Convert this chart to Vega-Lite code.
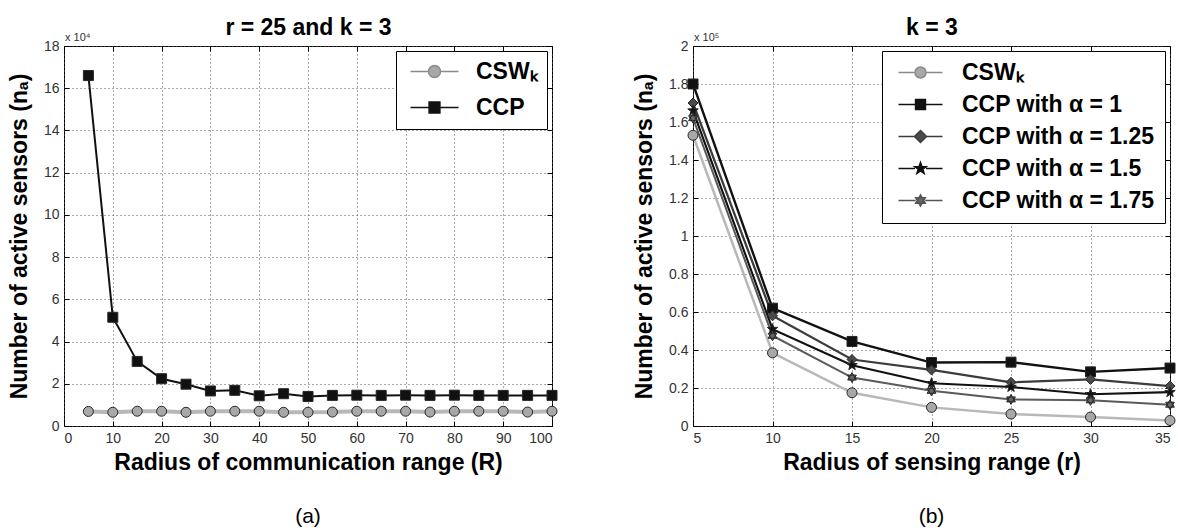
{
  "$schema": "https://vega.github.io/schema/vega-lite/v6.json",
  "background": "white",
  "padding": {"left": 7, "top": 16, "right": 0, "bottom": 0},
  "spacing": 73,
  "resolve": {"scale": {"color": "independent", "strokeWidth": "independent", "fill": "independent", "stroke": "independent", "shape": "independent"}, "legend": {"color": "independent", "fill": "independent", "stroke": "independent", "shape": "independent", "strokeWidth": "independent"}},
  "config": {
    "font": "Liberation Sans",
    "view": {"stroke": "#000", "strokeWidth": 1},
    "axis": {
      "domain": false, "tickColor": "#000", "tickSize": -5, "tickWidth": 1,
      "labelFont": "Liberation Sans", "labelFontSize": 14, "labelColor": "#333", "labelPadding": 10,
      "titleFont": "Liberation Sans", "titleFontSize": 23, "titleFontWeight": "bold", "titleColor": "#000",
      "gridColor": "#555", "gridDash": [1, 3], "gridWidth": 1, "gridOpacity": 1
    }
  },
  "datasets": {
    "a": [
      {"R": 5, "series": "CSWₖ", "n": 6900}, {"R": 10, "series": "CSWₖ", "n": 6500}, {"R": 15, "series": "CSWₖ", "n": 7000}, {"R": 20, "series": "CSWₖ", "n": 7000},
      {"R": 25, "series": "CSWₖ", "n": 6500}, {"R": 30, "series": "CSWₖ", "n": 7000}, {"R": 35, "series": "CSWₖ", "n": 7000}, {"R": 40, "series": "CSWₖ", "n": 7000},
      {"R": 45, "series": "CSWₖ", "n": 6500}, {"R": 50, "series": "CSWₖ", "n": 6500}, {"R": 55, "series": "CSWₖ", "n": 6600}, {"R": 60, "series": "CSWₖ", "n": 7000},
      {"R": 65, "series": "CSWₖ", "n": 7000}, {"R": 70, "series": "CSWₖ", "n": 7000}, {"R": 75, "series": "CSWₖ", "n": 6600}, {"R": 80, "series": "CSWₖ", "n": 7000},
      {"R": 85, "series": "CSWₖ", "n": 7000}, {"R": 90, "series": "CSWₖ", "n": 7000}, {"R": 95, "series": "CSWₖ", "n": 6600}, {"R": 100, "series": "CSWₖ", "n": 7000},
      {"R": 5, "series": "CCP", "n": 166000}, {"R": 10, "series": "CCP", "n": 51500}, {"R": 15, "series": "CCP", "n": 30600}, {"R": 20, "series": "CCP", "n": 22400},
      {"R": 25, "series": "CCP", "n": 19800}, {"R": 30, "series": "CCP", "n": 16600}, {"R": 35, "series": "CCP", "n": 16900}, {"R": 40, "series": "CCP", "n": 14300},
      {"R": 45, "series": "CCP", "n": 15300}, {"R": 50, "series": "CCP", "n": 14000}, {"R": 55, "series": "CCP", "n": 14500}, {"R": 60, "series": "CCP", "n": 14600},
      {"R": 65, "series": "CCP", "n": 14500}, {"R": 70, "series": "CCP", "n": 14600}, {"R": 75, "series": "CCP", "n": 14500}, {"R": 80, "series": "CCP", "n": 14600},
      {"R": 85, "series": "CCP", "n": 14500}, {"R": 90, "series": "CCP", "n": 14500}, {"R": 95, "series": "CCP", "n": 14500}, {"R": 100, "series": "CCP", "n": 14500}
    ],
    "b": [
      {"r": 5, "series": "CSWₖ", "n": 153000}, {"r": 10, "series": "CSWₖ", "n": 38500}, {"r": 15, "series": "CSWₖ", "n": 17500}, {"r": 20, "series": "CSWₖ", "n": 9800},
      {"r": 25, "series": "CSWₖ", "n": 6300}, {"r": 30, "series": "CSWₖ", "n": 4700}, {"r": 35, "series": "CSWₖ", "n": 2900},
      {"r": 5, "series": "CCP with α = 1", "n": 180000}, {"r": 10, "series": "CCP with α = 1", "n": 62000}, {"r": 15, "series": "CCP with α = 1", "n": 44500}, {"r": 20, "series": "CCP with α = 1", "n": 33400},
      {"r": 25, "series": "CCP with α = 1", "n": 33600}, {"r": 30, "series": "CCP with α = 1", "n": 28500}, {"r": 35, "series": "CCP with α = 1", "n": 30500},
      {"r": 5, "series": "CCP with α = 1.25", "n": 170000}, {"r": 10, "series": "CCP with α = 1.25", "n": 58000}, {"r": 15, "series": "CCP with α = 1.25", "n": 35000}, {"r": 20, "series": "CCP with α = 1.25", "n": 29500},
      {"r": 25, "series": "CCP with α = 1.25", "n": 23000}, {"r": 30, "series": "CCP with α = 1.25", "n": 24500}, {"r": 35, "series": "CCP with α = 1.25", "n": 21000},
      {"r": 5, "series": "CCP with α = 1.5", "n": 166000}, {"r": 10, "series": "CCP with α = 1.5", "n": 51000}, {"r": 15, "series": "CCP with α = 1.5", "n": 32000}, {"r": 20, "series": "CCP with α = 1.5", "n": 22500},
      {"r": 25, "series": "CCP with α = 1.5", "n": 20500}, {"r": 30, "series": "CCP with α = 1.5", "n": 16700}, {"r": 35, "series": "CCP with α = 1.5", "n": 17800},
      {"r": 5, "series": "CCP with α = 1.75", "n": 162000}, {"r": 10, "series": "CCP with α = 1.75", "n": 47500}, {"r": 15, "series": "CCP with α = 1.75", "n": 25500}, {"r": 20, "series": "CCP with α = 1.75", "n": 18500},
      {"r": 25, "series": "CCP with α = 1.75", "n": 14000}, {"r": 30, "series": "CCP with α = 1.75", "n": 13500}, {"r": 35, "series": "CCP with α = 1.75", "n": 11200}
    ]
  },
  "hconcat": [
    {
      "width": 488, "height": 380,
      "title": {"text": "(a)", "orient": "bottom", "fontSize": 21, "fontWeight": "normal", "offset": 32, "frame": "group", "anchor": "middle", "font": "Liberation Sans", "color": "#000"},
      "data": {"name": "a"},
      "layer": [
        {
          "mark": {"type": "line", "clip": true},
          "encoding": {
            "x": {"field": "R", "type": "quantitative", "scale": {"domain": [0, 100], "nice": false},
                  "axis": {"title": "Radius of communication range (R)", "values": [0, 10, 20, 30, 40, 50, 60, 70, 80, 90, 100], "grid": true, "titlePadding": 6}},
            "y": {"field": "n", "type": "quantitative", "scale": {"domain": [0, 180000], "nice": false},
                  "axis": {"title": "Number of active sensors (nₐ)", "values": [0, 20000, 40000, 60000, 80000, 100000, 120000, 140000, 160000, 180000], "labelExpr": "format(datum.value/10000, '~g')", "grid": true, "titlePadding": 12}},
            "color": {"field": "series", "type": "nominal", "scale": {"domain": ["CSWₖ", "CCP"], "range": ["#b8b8b8", "#111111"]}, "legend": null},
            "strokeWidth": {"field": "series", "type": "nominal", "scale": {"domain": ["CSWₖ", "CCP"], "range": [4, 2]}, "legend": null}
          }
        },
        {
          "mark": {"type": "point", "filled": true, "stroke": "#262626", "strokeWidth": 1, "size": 100, "opacity": 1},
          "encoding": {
            "x": {"field": "R", "type": "quantitative", "axis": {"orient": "top", "labels": false, "grid": false, "title": "r = 25 and k = 3", "titlePadding": 6, "values": [0, 10, 20, 30, 40, 50, 60, 70, 80, 90, 100]}},
            "y": {"field": "n", "type": "quantitative", "axis": {"orient": "right", "labels": false, "grid": false, "title": null, "values": [0, 20000, 40000, 60000, 80000, 100000, 120000, 140000, 160000, 180000]}},
            "fill": {"field": "series", "type": "nominal", "scale": {"domain": ["CSWₖ", "CCP"], "range": ["#a8a8a8", "#111111"]}, "legend": null},
            "shape": {"field": "series", "type": "nominal", "scale": {"domain": ["CSWₖ", "CCP"], "range": ["circle", "square"]}, "legend": null}
          }
        },
        {
          "transform": [{"filter": "datum.R < 0"}],
          "mark": {"type": "point", "filled": true, "strokeWidth": 1.5, "opacity": 1},
          "encoding": {
            "x": {"field": "R", "type": "quantitative", "axis": null},
            "y": {"field": "n", "type": "quantitative", "axis": null},
            "shape": {"field": "series", "type": "nominal", "scale": {"domain": ["CSWₖ", "CCP"], "range": ["M-4,0L-1,0M1,0L4,0M-1,0A1,1,0,1,0,1,0A1,1,0,1,0,-1,0Z", "M-4,0L-0.9,0M0.9,0L4,0M-0.9,-0.9L0.9,-0.9L0.9,0.9L-0.9,0.9Z"]},
                      "legend": {"title": null, "orient": "top-right", "offset": 5, "fillColor": "white", "strokeColor": "#000", "padding": 9, "labelFontSize": 23, "labelFontWeight": "bold", "labelFont": "Liberation Sans", "labelColor": "#000", "symbolSize": 144, "symbolStrokeWidth": 1.5, "symbolOffset": 18, "labelOffset": 30, "rowPadding": 12, "labelLimit": 400}},
            "fill": {"field": "series", "type": "nominal", "scale": {"domain": ["CSWₖ", "CCP"], "range": ["#a8a8a8", "#111111"]},
                      "legend": {"title": null, "orient": "top-right", "offset": 5, "fillColor": "white", "strokeColor": "#000", "padding": 9, "labelFontSize": 23, "labelFontWeight": "bold", "labelFont": "Liberation Sans", "labelColor": "#000", "symbolSize": 144, "symbolStrokeWidth": 1.5, "symbolOffset": 18, "labelOffset": 30, "rowPadding": 12, "labelLimit": 400}},
            "stroke": {"field": "series", "type": "nominal", "scale": {"domain": ["CSWₖ", "CCP"], "range": ["#8a8a8a", "#111111"]},
                      "legend": {"title": null, "orient": "top-right", "offset": 5, "fillColor": "white", "strokeColor": "#000", "padding": 9, "labelFontSize": 23, "labelFontWeight": "bold", "labelFont": "Liberation Sans", "labelColor": "#000", "symbolSize": 144, "symbolStrokeWidth": 1.5, "symbolOffset": 18, "labelOffset": 30, "rowPadding": 12, "labelLimit": 400}}
          }
        },
        {
          "data": {"values": [{"R": 0, "n": 180000, "t": "x 10⁴"}]},
          "mark": {"type": "text", "align": "left", "baseline": "bottom", "dx": 1, "dy": -3, "fontSize": 11, "color": "#333", "font": "Liberation Sans"},
          "encoding": {
            "x": {"field": "R", "type": "quantitative", "axis": null},
            "y": {"field": "n", "type": "quantitative", "axis": null},
            "text": {"field": "t", "type": "nominal"}
          }
        }
      ],
      "resolve": {"scale": {"shape": "independent", "fill": "independent", "stroke": "independent"}, "axis": {"x": "independent", "y": "independent"}}
    },
    {
      "width": 477, "height": 380,
      "title": {"text": "(b)", "orient": "bottom", "fontSize": 21, "fontWeight": "normal", "offset": 32, "frame": "group", "anchor": "middle", "font": "Liberation Sans", "color": "#000"},
      "data": {"name": "b"},
      "layer": [
        {
          "mark": {"type": "line", "clip": true},
          "encoding": {
            "x": {"field": "r", "type": "quantitative", "scale": {"domain": [5, 35], "nice": false},
                  "axis": {"title": "Radius of sensing range (r)", "values": [5, 10, 15, 20, 25, 30, 35], "grid": true, "titlePadding": 6}},
            "y": {"field": "n", "type": "quantitative", "scale": {"domain": [0, 200000], "nice": false},
                  "axis": {"title": "Number of active sensors (nₐ)", "values": [0, 20000, 40000, 60000, 80000, 100000, 120000, 140000, 160000, 180000, 200000], "labelExpr": "format(datum.value/100000, '~g')", "grid": true, "titlePadding": 12}},
            "color": {"field": "series", "type": "nominal", "scale": {"domain": ["CSWₖ", "CCP with α = 1", "CCP with α = 1.25", "CCP with α = 1.5", "CCP with α = 1.75"], "range": ["#b8b8b8", "#111111", "#3c3c3c", "#111111", "#5a5a5a"]}, "legend": null},
            "strokeWidth": {"field": "series", "type": "nominal", "scale": {"domain": ["CSWₖ", "CCP with α = 1", "CCP with α = 1.25", "CCP with α = 1.5", "CCP with α = 1.75"], "range": [2.5, 2, 2, 2, 2]}, "legend": null}
          }
        },
        {
          "mark": {"type": "point", "filled": true, "stroke": "#262626", "strokeWidth": 1, "size": 100, "opacity": 1},
          "encoding": {
            "x": {"field": "r", "type": "quantitative", "axis": {"orient": "top", "labels": false, "grid": false, "title": "k = 3", "titlePadding": 6, "values": [5, 10, 15, 20, 25, 30, 35]}},
            "y": {"field": "n", "type": "quantitative", "axis": {"orient": "right", "labels": false, "grid": false, "title": null, "values": [0, 20000, 40000, 60000, 80000, 100000, 120000, 140000, 160000, 180000, 200000]}},
            "fill": {"field": "series", "type": "nominal", "scale": {"domain": ["CSWₖ", "CCP with α = 1", "CCP with α = 1.25", "CCP with α = 1.5", "CCP with α = 1.75"], "range": ["#a8a8a8", "#111111", "#4a4a4a", "#111111", "#666666"]}, "legend": null},
            "shape": {"field": "series", "type": "nominal", "scale": {"domain": ["CSWₖ", "CCP with α = 1", "CCP with α = 1.25", "CCP with α = 1.5", "CCP with α = 1.75"], "range": ["circle", "square", "diamond", "M0,-1.1L0.26,-0.36L1.05,-0.34L0.42,0.14L0.65,0.89L0,0.44L-0.65,0.89L-0.42,0.14L-1.05,-0.34L-0.26,-0.36Z", "M0,-1L0.87,0.5L-0.87,0.5Z M0,1L-0.87,-0.5L0.87,-0.5Z"]}, "legend": null}
          }
        },
        {
          "transform": [{"filter": "datum.r < 0"}],
          "mark": {"type": "point", "filled": true, "strokeWidth": 1.5, "opacity": 1},
          "encoding": {
            "x": {"field": "r", "type": "quantitative", "axis": null},
            "y": {"field": "n", "type": "quantitative", "axis": null},
            "shape": {"field": "series", "type": "nominal", "scale": {"domain": ["CSWₖ", "CCP with α = 1", "CCP with α = 1.25", "CCP with α = 1.5", "CCP with α = 1.75"], "range": ["M-4,0L-1,0M1,0L4,0M-1,0A1,1,0,1,0,1,0A1,1,0,1,0,-1,0Z", "M-4,0L-0.9,0M0.9,0L4,0M-0.9,-0.9L0.9,-0.9L0.9,0.9L-0.9,0.9Z", "M-4,0L-1.1,0M1.1,0L4,0M-1.1,0L0,-1.1L1.1,0L0,1.1Z", "M-4,0L-1,0M1,0L4,0M0,-1.1L0.26,-0.36L1.05,-0.34L0.42,0.14L0.65,0.89L0,0.44L-0.65,0.89L-0.42,0.14L-1.05,-0.34L-0.26,-0.36Z", "M-4,0L-0.87,0M0.87,0L4,0M0,-1L0.87,0.5L-0.87,0.5Z M0,1L-0.87,-0.5L0.87,-0.5Z"]},
                      "legend": {"title": null, "orient": "top-right", "offset": 5, "fillColor": "white", "strokeColor": "#000", "padding": 10, "labelFontSize": 23, "labelFontWeight": "bold", "labelFont": "Liberation Sans", "labelColor": "#000", "symbolSize": 121, "symbolStrokeWidth": 1.5, "symbolOffset": 17, "labelOffset": 30, "rowPadding": 8, "labelLimit": 400}},
            "fill": {"field": "series", "type": "nominal", "scale": {"domain": ["CSWₖ", "CCP with α = 1", "CCP with α = 1.25", "CCP with α = 1.5", "CCP with α = 1.75"], "range": ["#a8a8a8", "#111111", "#4a4a4a", "#111111", "#666666"]},
                      "legend": {"title": null, "orient": "top-right", "offset": 5, "fillColor": "white", "strokeColor": "#000", "padding": 10, "labelFontSize": 23, "labelFontWeight": "bold", "labelFont": "Liberation Sans", "labelColor": "#000", "symbolSize": 121, "symbolStrokeWidth": 1.5, "symbolOffset": 17, "labelOffset": 30, "rowPadding": 8, "labelLimit": 400}},
            "stroke": {"field": "series", "type": "nominal", "scale": {"domain": ["CSWₖ", "CCP with α = 1", "CCP with α = 1.25", "CCP with α = 1.5", "CCP with α = 1.75"], "range": ["#8a8a8a", "#111111", "#3c3c3c", "#111111", "#555555"]},
                      "legend": {"title": null, "orient": "top-right", "offset": 5, "fillColor": "white", "strokeColor": "#000", "padding": 10, "labelFontSize": 23, "labelFontWeight": "bold", "labelFont": "Liberation Sans", "labelColor": "#000", "symbolSize": 121, "symbolStrokeWidth": 1.5, "symbolOffset": 17, "labelOffset": 30, "rowPadding": 8, "labelLimit": 400}}
          }
        },
        {
          "data": {"values": [{"r": 5, "n": 200000, "t": "x 10⁵"}]},
          "mark": {"type": "text", "align": "left", "baseline": "bottom", "dx": 1, "dy": -3, "fontSize": 11, "color": "#333", "font": "Liberation Sans"},
          "encoding": {
            "x": {"field": "r", "type": "quantitative", "axis": null},
            "y": {"field": "n", "type": "quantitative", "axis": null},
            "text": {"field": "t", "type": "nominal"}
          }
        }
      ],
      "resolve": {"scale": {"shape": "independent", "fill": "independent", "stroke": "independent"}, "axis": {"x": "independent", "y": "independent"}}
    }
  ]
}
